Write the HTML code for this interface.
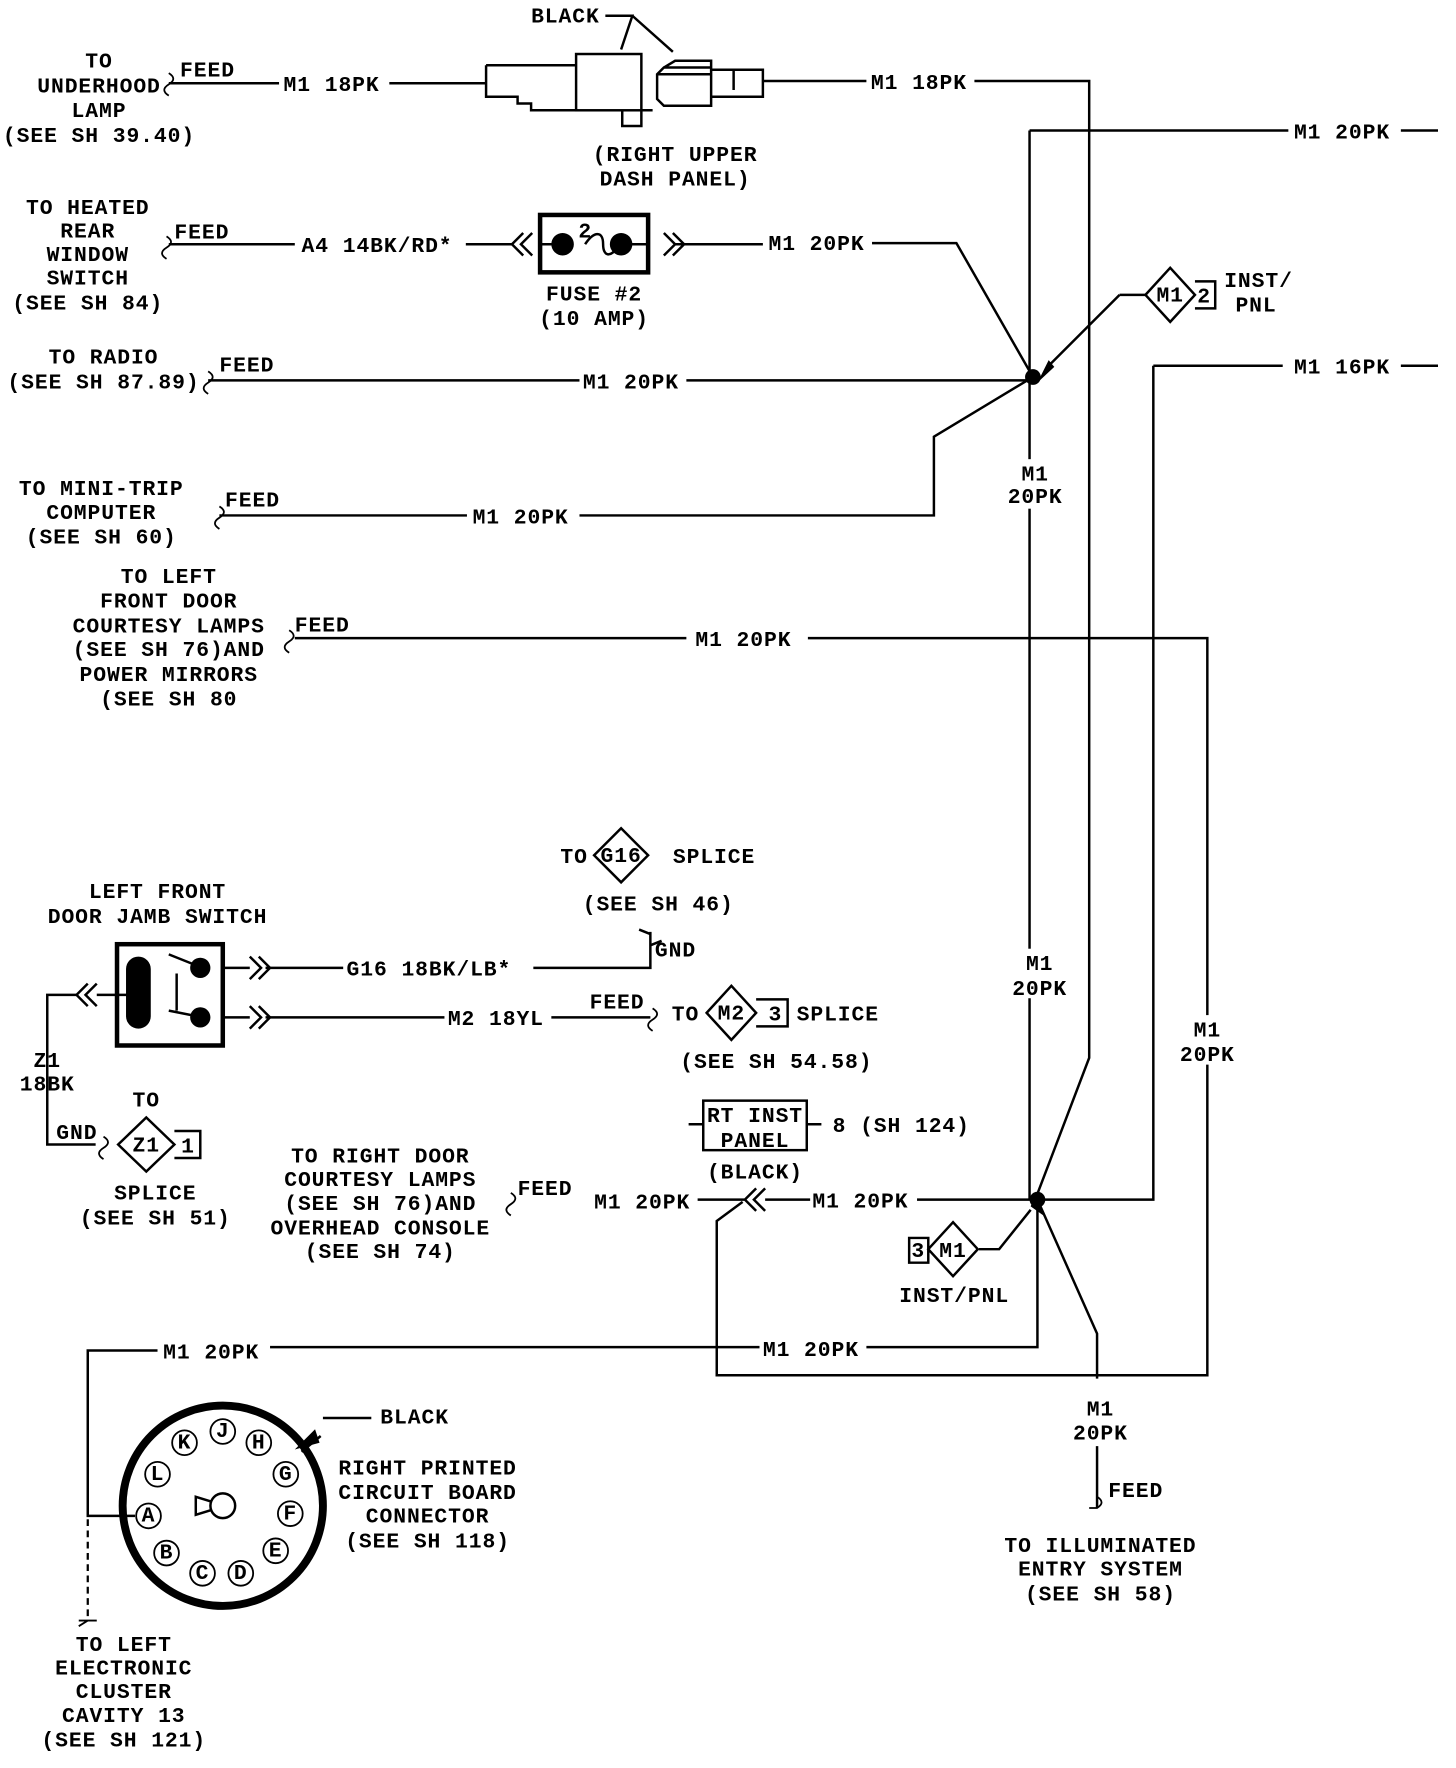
<!DOCTYPE html>
<html><head><meta charset="utf-8"><style>
html,body{margin:0;padding:0;background:#fff;}
svg{display:block;}
text{font-family:"Liberation Mono",monospace;font-size:19px;font-weight:bold;fill:#000;letter-spacing:0.8px;}
</style></head><body>
<svg width="1456" height="1768" viewBox="0 0 1294 1571" preserveAspectRatio="none" xmlns="http://www.w3.org/2000/svg">
<g fill="none" stroke="#000" stroke-width="2.2">
<!-- top row -->
<path d="M150 74H248 M346 74H432"/>
<path d="M432 58H512 M432 58V86H460V92H472V98H512"/>
<rect x="512" y="48" width="58" height="50"/>
<path d="M553 98V112H570V98 M570 98H580"/>
<path d="M590 60L584 66V88L590 94H632V60Z M584 66H632 M590 60L600 54H632V60 M632 62H652V80 M652 62H678V86H632"/>
<path d="M538 14H562L552 44 M562 14L598 46"/>
<path d="M678 72H770 M866 72H968V940L920 1066"/>
<!-- M1 20PK top right -->
<path d="M915 116H1145 M915 116V1066 M1245 116H1278"/>
<!-- fuse row -->
<path d="M150 217H262 M414 217H455 M465 207L455 217L465 227 M473 207L463 217L473 227"/>
<rect x="480" y="191" width="96" height="51" stroke-width="4"/>
<path d="M480 217H500 M550 217H576 M590 207L600 217L590 227 M598 207L608 217L598 227 M600 217H678 M775 216H850L918 335"/>
<path d="M520 217C528 205 536 205 536 217C536 229 544 229 550 217"/>
<!-- diamond M1 2 -->
<path d="M995 262H1018 M995 262L930 327"/>
<path d="M1018 262L1040 238L1062 262L1040 286Z M1062 250H1080V274H1062"/>
<!-- radio -->
<path d="M185 338H515 M610 338H918"/>
<!-- minitrip -->
<path d="M195 458H415 M515 458H830V388L918 335"/>
<!-- 16PK -->
<path d="M1025 325H1140 M1245 325H1278 M1025 325V1066H922"/>
<!-- door row -->
<path d="M262 567H610 M718 567H1073V1222H637V1085L660 1068"/>
<!-- junction 2 -->
<path d="M815 1066H922 M720 1066H680 M680 1056L670 1066L680 1076 M672 1056L662 1066L672 1076 M662 1066H620"/>
<path d="M870 1110L888 1110L916 1075"/>
<path d="M808 1100H825V1122H808Z M825 1110L847 1086L869 1110L847 1134Z"/>
<path d="M922 1066V1197H770 M675 1197H240 M140 1200H78V1347H120"/>
<path d="M922 1066L975 1185V1225 M975 1285V1340"/>
<!-- G16 / M2 area -->
<path d="M236 860H305 M474 860H578V828 M236 904H395 M490 904H578"/>
<path d="M578 830L568 826 M578 840L588 836"/>
<path d="M628 900L650 876L672 900L650 924Z M672 888H700V912H672"/>
<path d="M528 760L552 736L576 760L552 784Z"/>
<path d="M105 1017L130 993L155 1017L130 1041Z M155 1005H178V1029H155"/>
<path d="M42 932V1017H85 M42 932V884H68"/>
<!-- door jamb switch -->
<rect x="104" y="839" width="94" height="90" stroke-width="4"/>
<path d="M198 860H222 M198 904H222 M150 848L180 860 M150 898L180 904 M157 865V898"/>
<path d="M222 850L232 860L222 870 M230 850L240 860L230 870 M222 894L232 904L222 914 M230 894L240 904L230 914"/>
<path d="M78 874L68 884L78 894 M86 874L76 884L86 894 M86 884H115"/>
<!-- RT inst panel box -->
<rect x="625" y="978" width="92" height="44"/>
<path d="M612 999H625 M717 999H730"/>
<!-- round connector -->
<circle cx="198" cy="1338" r="89" stroke-width="7"/>
<path d="M285 1276L268 1290 M287 1260H330"/>
<circle cx="198" cy="1338" r="11"/>
<path d="M187 1334L174 1330V1346L187 1342"/>
</g>
<!-- label backgrounds breaking lines -->
<g fill="#fff">
<rect x="895" y="408" width="50" height="44"/>
<rect x="898" y="843" width="52" height="44"/>
<rect x="1050" y="902" width="50" height="44"/>
</g>
<g fill="#000">
<circle cx="918" cy="335" r="7"/><circle cx="922" cy="1066" r="7"/>
<circle cx="500" cy="217" r="10"/><circle cx="552" cy="217" r="10"/>
<circle cx="178" cy="860" r="9"/><circle cx="178" cy="904" r="9"/>
<rect x="112" y="850" width="22" height="64" rx="11"/>
<path d="M922 340L937 326L932 320Z"/>
<path d="M916 1072L930 1082L920 1062Z"/>
<path d="M262 1288L280 1270L284 1282Z"/>
</g>
<g fill="none" stroke="#000" stroke-width="2" stroke-dasharray="6,4"><path d="M78 1350V1440"/></g>
<g fill="none" stroke="#000" stroke-width="1.6">
<circle cx="164" cy="1282" r="11"/><circle cx="198" cy="1272" r="11"/><circle cx="230" cy="1282" r="11"/>
<circle cx="140" cy="1310" r="11"/><circle cx="132" cy="1347" r="11"/><circle cx="148" cy="1380" r="11"/>
<circle cx="180" cy="1398" r="11"/><circle cx="214" cy="1398" r="11"/><circle cx="245" cy="1378" r="11"/>
<circle cx="258" cy="1345" r="11"/><circle cx="254" cy="1310" r="11"/>
<path d="M150 65Q158 70 150 75Q142 80 150 85 M185 330Q193 335 185 340Q177 345 185 350 M195 450Q203 455 195 460Q187 465 195 470 M257 560Q265 565 257 570Q249 575 257 580 M148 210Q156 215 148 220Q140 225 148 230 M454 1060Q462 1065 454 1070Q446 1075 454 1080 M580 896Q588 901 580 906Q572 911 580 916 M92 1010Q100 1015 92 1020Q84 1025 92 1030 M975 1330Q983 1335 975 1340L968 1340 M78 1440L70 1445 M70 1440L86 1440"/>
</g>
<g>
<text x="88" y="60" text-anchor="middle">TO</text>
<text x="88" y="82" text-anchor="middle">UNDERHOOD</text>
<text x="88" y="104" text-anchor="middle">LAMP</text>
<text x="88" y="126" text-anchor="middle">(SEE SH 39.40)</text>
<text x="160" y="68">FEED</text>
<text x="252" y="81">M1 18PK</text>
<text x="472" y="20">BLACK</text>
<text x="600" y="143" text-anchor="middle">(RIGHT UPPER</text>
<text x="600" y="165" text-anchor="middle">DASH PANEL)</text>
<text x="774" y="79">M1 18PK</text>
<text x="1150" y="123">M1 20PK</text>
<text x="78" y="190" text-anchor="middle">TO HEATED</text>
<text x="78" y="211" text-anchor="middle">REAR</text>
<text x="78" y="232" text-anchor="middle">WINDOW</text>
<text x="78" y="253" text-anchor="middle">SWITCH</text>
<text x="78" y="275" text-anchor="middle">(SEE SH 84)</text>
<text x="155" y="212">FEED</text>
<text x="268" y="224">A4 14BK/RD*</text>
<text x="514" y="211" font-size="15">2</text>
<text x="528" y="267" text-anchor="middle">FUSE #2</text>
<text x="528" y="289" text-anchor="middle">(10 AMP)</text>
<text x="683" y="222">M1 20PK</text>
<text x="1040" y="268" text-anchor="middle" font-size="16">M1</text>
<text x="1064" y="269" font-size="16">2</text>
<text x="1088" y="255">INST/</text>
<text x="1098" y="277">PNL</text>
<text x="92" y="323" text-anchor="middle">TO RADIO</text>
<text x="92" y="345" text-anchor="middle">(SEE SH 87.89)</text>
<text x="195" y="330">FEED</text>
<text x="518" y="345">M1 20PK</text>
<text x="1150" y="332">M1 16PK</text>
<text x="920" y="427" text-anchor="middle">M1</text>
<text x="920" y="447" text-anchor="middle">20PK</text>
<text x="90" y="440" text-anchor="middle">TO MINI-TRIP</text>
<text x="90" y="461" text-anchor="middle">COMPUTER</text>
<text x="90" y="483" text-anchor="middle">(SEE SH 60)</text>
<text x="200" y="450">FEED</text>
<text x="420" y="465">M1 20PK</text>
<text x="150" y="518" text-anchor="middle">TO LEFT</text>
<text x="150" y="540" text-anchor="middle">FRONT DOOR</text>
<text x="150" y="562" text-anchor="middle">COURTESY LAMPS</text>
<text x="150" y="583" text-anchor="middle">(SEE SH 76)AND</text>
<text x="150" y="605" text-anchor="middle">POWER MIRRORS</text>
<text x="150" y="627" text-anchor="middle">(SEE SH 80</text>
<text x="262" y="561">FEED</text>
<text x="618" y="574">M1 20PK</text>
<text x="498" y="767">TO</text>
<text x="552" y="766" text-anchor="middle" font-size="16">G16</text>
<text x="598" y="767">SPLICE</text>
<text x="585" y="809" text-anchor="middle">(SEE SH 46)</text>
<text x="582" y="850">GND</text>
<text x="140" y="798" text-anchor="middle">LEFT FRONT</text>
<text x="140" y="820" text-anchor="middle">DOOR JAMB SWITCH</text>
<text x="308" y="867">G16 18BK/LB*</text>
<text x="398" y="911">M2 18YL</text>
<text x="524" y="896">FEED</text>
<text x="597" y="907">TO</text>
<text x="650" y="906" text-anchor="middle" font-size="16">M2</text>
<text x="683" y="907" font-size="16">3</text>
<text x="708" y="907">SPLICE</text>
<text x="690" y="949" text-anchor="middle">(SEE SH 54.58)</text>
<text x="924" y="862" text-anchor="middle">M1</text>
<text x="924" y="884" text-anchor="middle">20PK</text>
<text x="1073" y="921" text-anchor="middle">M1</text>
<text x="1073" y="943" text-anchor="middle">20PK</text>
<text x="42" y="948" text-anchor="middle">Z1</text>
<text x="42" y="969" text-anchor="middle">18BK</text>
<text x="130" y="983" text-anchor="middle">TO</text>
<text x="50" y="1012">GND</text>
<text x="130" y="1023" text-anchor="middle" font-size="16">Z1</text>
<text x="161" y="1024" font-size="16">1</text>
<text x="138" y="1066" text-anchor="middle">SPLICE</text>
<text x="138" y="1088" text-anchor="middle">(SEE SH 51)</text>
<text x="671" y="997" text-anchor="middle">RT INST</text>
<text x="671" y="1019" text-anchor="middle">PANEL</text>
<text x="671" y="1047" text-anchor="middle">(BLACK)</text>
<text x="740" y="1006">8 (SH 124)</text>
<text x="338" y="1033" text-anchor="middle">TO RIGHT DOOR</text>
<text x="338" y="1054" text-anchor="middle">COURTESY LAMPS</text>
<text x="338" y="1075" text-anchor="middle">(SEE SH 76)AND</text>
<text x="338" y="1097" text-anchor="middle">OVERHEAD CONSOLE</text>
<text x="338" y="1118" text-anchor="middle">(SEE SH 74)</text>
<text x="460" y="1062">FEED</text>
<text x="528" y="1074">M1 20PK</text>
<text x="722" y="1073">M1 20PK</text>
<text x="810" y="1117" font-size="16">3</text>
<text x="847" y="1117" text-anchor="middle" font-size="16">M1</text>
<text x="848" y="1157" text-anchor="middle">INST/PNL</text>
<text x="145" y="1207">M1 20PK</text>
<text x="678" y="1205">M1 20PK</text>
<text x="338" y="1265">BLACK</text>
<text x="380" y="1310" text-anchor="middle">RIGHT PRINTED</text>
<text x="380" y="1332" text-anchor="middle">CIRCUIT BOARD</text>
<text x="380" y="1353" text-anchor="middle">CONNECTOR</text>
<text x="380" y="1375" text-anchor="middle">(SEE SH 118)</text>
<g font-size="14" text-anchor="middle" style="letter-spacing:0">
<text x="164" y="1287">K</text><text x="198" y="1277">J</text><text x="230" y="1287">H</text>
<text x="140" y="1315">L</text><text x="132" y="1352">A</text><text x="148" y="1385">B</text>
<text x="180" y="1403">C</text><text x="214" y="1403">D</text><text x="245" y="1383">E</text>
<text x="258" y="1350">F</text><text x="254" y="1315">G</text>
</g>
<text x="978" y="1258" text-anchor="middle">M1</text>
<text x="978" y="1279" text-anchor="middle">20PK</text>
<text x="985" y="1330">FEED</text>
<text x="978" y="1379" text-anchor="middle">TO ILLUMINATED</text>
<text x="978" y="1400" text-anchor="middle">ENTRY SYSTEM</text>
<text x="978" y="1422" text-anchor="middle">(SEE SH 58)</text>
<text x="110" y="1467" text-anchor="middle">TO LEFT</text>
<text x="110" y="1488" text-anchor="middle">ELECTRONIC</text>
<text x="110" y="1509" text-anchor="middle">CLUSTER</text>
<text x="110" y="1530" text-anchor="middle">CAVITY 13</text>
<text x="110" y="1552" text-anchor="middle">(SEE SH 121)</text>
</g>
</svg>
</body></html>
